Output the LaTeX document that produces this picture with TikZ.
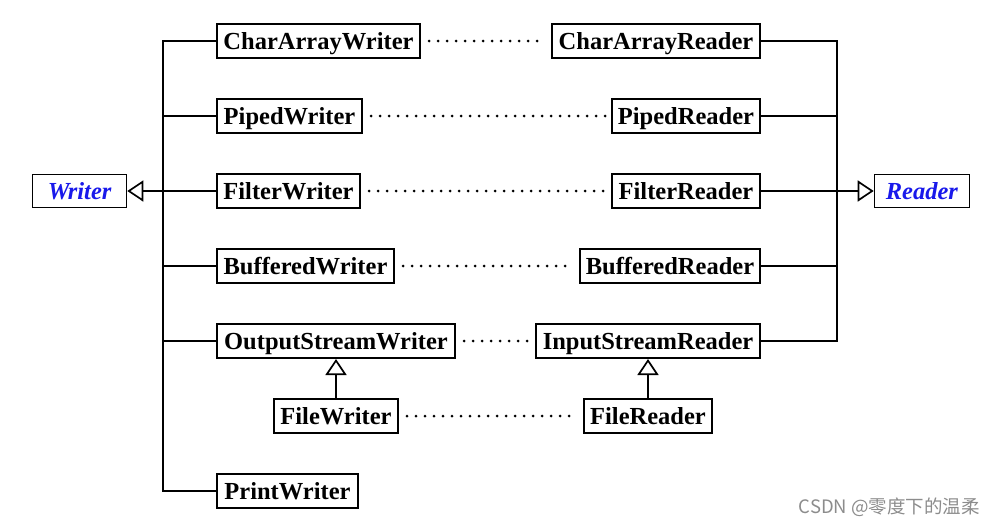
\documentclass[tikz,border=0pt]{standalone}
\usepackage{fontspec}
\setmainfont{Liberation Serif}
\newfontfamily\cjkfont{Noto Sans CJK SC}
\usetikzlibrary{arrows.meta}
\definecolor{ablue}{RGB}{25,25,235}
\tikzset{
  cls/.style={draw, line width=2pt, rectangle, minimum height=34pt, inner sep=0pt, fill=white,
    text height=16.5pt, text depth=0pt,
    font=\fontsize{24.5}{28}\selectfont\bfseries},
  abs/.style={cls, line width=1.3pt, minimum height=33pt, text=ablue, font=\fontsize{24.5}{28}\selectfont\bfseries\itshape},
  conn/.style={line width=2pt},
  dots/.style={line width=3pt, line cap=round, dash pattern=on 0pt off 9pt},
  inh/.style={line width=2pt, -{Triangle[open, length=16pt, width=21pt, fill=white, line width=1.7pt]}},
}
\begin{document}
\begin{tikzpicture}[x=1pt, y=-1pt]
\useasboundingbox (0,0) rectangle (995,525);
% writers
\node[cls, anchor=west, minimum width=203pt] (caw) at (216,41) {CharArrayWriter};
\node[cls, anchor=west, minimum width=145pt] (piw) at (216,116) {PipedWriter};
\node[cls, anchor=west, minimum width=143pt] (fiw) at (216,191) {FilterWriter};
\node[cls, anchor=west, minimum width=177pt] (buw) at (216,266) {BufferedWriter};
\node[cls, anchor=west, minimum width=238pt] (osw) at (216,341) {OutputStreamWriter};
\node[cls, anchor=west, minimum width=124pt] (flw) at (273,416) {FileWriter};
\node[cls, anchor=west, minimum width=141pt] (prw) at (216,491) {PrintWriter};
% readers
\node[cls, anchor=east, minimum width=208pt] (car) at (761,41) {CharArrayReader};
\node[cls, anchor=east, minimum width=148pt] (pir) at (761,116) {PipedReader};
\node[cls, anchor=east, minimum width=148pt] (fir) at (761,191) {FilterReader};
\node[cls, anchor=east, minimum width=180pt] (bur) at (761,266) {BufferedReader};
\node[cls, anchor=east, minimum width=224pt] (isr) at (761,341) {InputStreamReader};
\node[cls, anchor=east, minimum width=128pt] (flr) at (713,416) {FileReader};
% abstract
\node[abs, anchor=west, minimum width=94pt] (writer) at (32,191) {Writer};
\node[abs, anchor=east, minimum width=95pt] (reader) at (970,191) {Reader};
% left bus
\coordinate (lb) at (163,491);
\draw[conn] (caw.west) -- ++(-53,0) |- (prw.west);
\draw[conn] (piw.west) -- (piw.west -| lb);
\draw[conn] (buw.west) -- (buw.west -| lb);
\draw[conn] (osw.west) -- (osw.west -| lb);
\draw[inh] (fiw.west) -- (writer.east);
% right bus
\coordinate (rb) at (837,341);
\draw[conn] (car.east) -- ++(76,0) |- (isr.east);
\draw[conn] (pir.east) -- (pir.east -| rb);
\draw[conn] (bur.east) -- (bur.east -| rb);
\draw[inh] (fir.east) -- (reader.west);
% inheritance
\draw[inh] (flw.north) -- (flw.north |- osw.south);
\draw[inh] (flr.north) -- (flr.north |- isr.south);
% dotted pairs
\draw[dots] ([xshift=8pt]caw.east) -- ([xshift=-6pt]car.west);
\draw[dots] ([xshift=8pt]piw.east) -- ([xshift=-6pt]pir.west);
\draw[dots] ([xshift=8pt]fiw.east) -- ([xshift=-6pt]fir.west);
\draw[dots] ([xshift=8pt]buw.east) -- ([xshift=-6pt]bur.west);
\draw[dots] ([xshift=8pt]osw.east) -- ([xshift=-6pt]isr.west);
\draw[dots] ([xshift=8pt]flw.east) -- ([xshift=-6pt]flr.west);
% watermark
\node[anchor=east, inner sep=0pt, text=black!45, font=\cjkfont\fontsize{18.5}{20}\selectfont] (wm) at (980,507) {CSDN @零度下的温柔};
\end{tikzpicture}
\end{document}
